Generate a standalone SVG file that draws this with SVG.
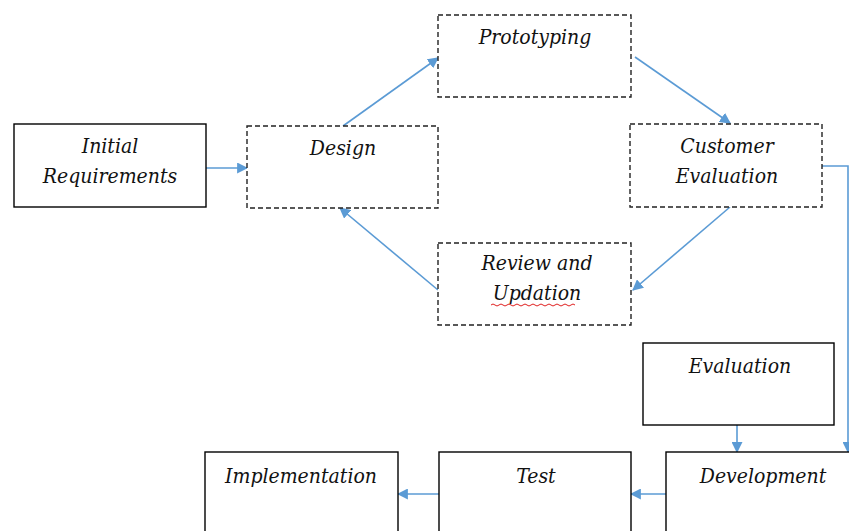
<svg xmlns="http://www.w3.org/2000/svg" width="849" height="531" viewBox="0 0 849 531">
<defs>
<marker id="ah" viewBox="0 0 10 10" refX="9" refY="5" markerWidth="11" markerHeight="11" markerUnits="userSpaceOnUse" orient="auto">
<path d="M0,0 L10,5 L0,10 z" fill="#5B9BD5"/>
</marker>
</defs>
<style>
.solid{fill:#fff;stroke:#000;stroke-width:1.4}
.dash{fill:#fff;stroke:#222;stroke-width:1.4;stroke-dasharray:5 3}
.t{font-family:"DejaVu Serif","Liberation Serif",serif;font-stretch:condensed;font-style:italic;font-size:21px;fill:#111;text-anchor:middle}
.c{fill:none;stroke:#5B9BD5;stroke-width:1.6;marker-end:url(#ah)}
</style>
<rect width="849" height="531" fill="#fff"/>
<g id="connectors">
<line class="c" x1="206" y1="168" x2="247" y2="168"/>
<line class="c" x1="343" y1="126" x2="438" y2="58"/>
<line class="c" x1="635" y1="57" x2="730" y2="123"/>
<line class="c" x1="730" y1="207" x2="633" y2="290"/>
<line class="c" x1="438" y1="290" x2="340" y2="208"/>
<polyline class="c" points="822,166 848,166 848,452"/>
<line class="c" x1="737" y1="425" x2="737" y2="452"/>
<line class="c" x1="666" y1="494" x2="631" y2="494"/>
<line class="c" x1="439" y1="494" x2="398" y2="494"/>
</g>
<g id="initial">
<rect class="solid" x="14" y="124" width="192" height="83"/>
<text class="t" x="110" y="153">Initial</text>
<text class="t" x="110" y="183">Requirements</text>
</g>
<g id="design">
<rect class="dash" x="247" y="126" width="191" height="82"/>
<text class="t" x="343" y="155">Design</text>
</g>
<g id="prototyping">
<rect class="dash" x="438" y="15" width="193" height="82"/>
<text class="t" x="535" y="44">Prototyping</text>
</g>
<g id="customer">
<rect class="dash" x="630" y="124" width="192" height="83"/>
<text class="t" x="727" y="153">Customer</text>
<text class="t" x="727" y="183">Evaluation</text>
</g>
<g id="review">
<rect class="dash" x="438" y="243" width="193" height="82"/>
<text class="t" x="537" y="270">Review and</text>
<text class="t" x="537" y="300">Updation</text>
<path d="M491,305 q2,-2 4,0 t4,0 t4,0 t4,0 t4,0 t4,0 t4,0 t4,0 t4,0 t4,0 t4,0 t4,0 t4,0 t4,0 t4,0 t4,0 t4,0 t4,0 t4,0 t4,0 t4,0" fill="none" stroke="#e02020" stroke-width="1"/>
</g>
<g id="evaluation">
<rect class="solid" x="643" y="343" width="191" height="82"/>
<text class="t" x="740" y="373">Evaluation</text>
</g>
<g id="development">
<rect class="solid" x="666" y="452" width="190" height="90"/>
<text class="t" x="763" y="483">Development</text>
</g>
<g id="test">
<rect class="solid" x="439" y="452" width="192" height="90"/>
<text class="t" x="536" y="483">Test</text>
</g>
<g id="implementation">
<rect class="solid" x="205" y="452" width="193" height="90"/>
<text class="t" x="301" y="483">Implementation</text>
</g>
</svg>
